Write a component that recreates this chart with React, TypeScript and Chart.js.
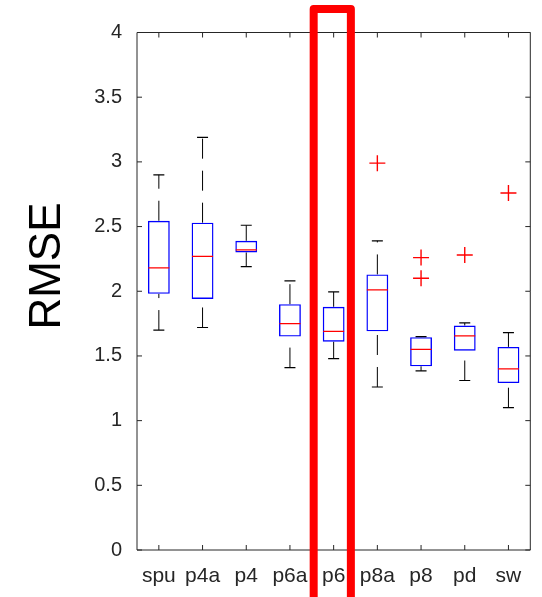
import React, { useEffect, useRef } from "react";
import { Chart, registerables } from "chart.js";

Chart.register(...registerables);

const categories = ["spu", "p4a", "p4", "p6a", "p6", "p8a", "p8", "pd", "sw"];
const q1 = [1.98, 1.94, 2.3, 1.65, 1.61, 1.69, 1.42, 1.54, 1.29];
const q3 = [2.545, 2.53, 2.39, 1.9, 1.88, 2.13, 1.645, 1.735, 1.57];
const medians = [2.18, 2.27, 2.32, 1.75, 1.69, 2.01, 1.55, 1.655, 1.4];
const whiskerLow = [1.7, 1.72, 2.19, 1.41, 1.48, 1.26, 1.385, 1.31, 1.1];
const whiskerHigh = [2.9, 3.19, 2.51, 2.08, 1.995, 2.39, 1.65, 1.755, 1.68];
const outlierCategory = ["p8a", "p8", "p8", "pd", "sw"];
const outlierValue = [2.99, 2.26, 2.1, 2.28, 2.76];
const yTicks = [0, 0.5, 1, 1.5, 2, 2.5, 3, 3.5, 4];
const highlightCategory = "p6";

const FONT = '"Liberation Sans", Arial, Helvetica, sans-serif';
const AXIS = "#262626";

const framePlugin = {
  id: "frame",
  afterDraw(chart: any) {
    const { ctx, chartArea, scales } = chart;
    const { left, right, top, bottom } = chartArea;
    ctx.save();
    ctx.strokeStyle = AXIS;
    ctx.lineWidth = 1;
    ctx.beginPath();
    ctx.rect(left, top, right - left, bottom - top);
    ctx.stroke();
    const tl = 5;
    ctx.beginPath();
    scales.y.ticks.forEach((t: any) => {
      const py = scales.y.getPixelForValue(t.value);
      ctx.moveTo(left, py);
      ctx.lineTo(left + tl, py);
      ctx.moveTo(right, py);
      ctx.lineTo(right - tl, py);
    });
    scales.x.ticks.forEach((t: any) => {
      const px = scales.x.getPixelForValue(t.value);
      ctx.moveTo(px, bottom);
      ctx.lineTo(px, bottom - tl);
      ctx.moveTo(px, top);
      ctx.lineTo(px, top + tl);
    });
    ctx.stroke();

    // y axis title
    ctx.fillStyle = "#000000";
    ctx.font = `44px ${FONT}`;
    ctx.textAlign = "center";
    ctx.textBaseline = "middle";
    ctx.translate(48, 266);
    ctx.rotate(-Math.PI / 2);
    ctx.fillText("RMSE", 0, 0);
    ctx.restore();

    // highlight rectangle around the chosen category
    const idx = categories.indexOf(highlightCategory) + 1;
    const xl = scales.x.getPixelForValue(idx - 0.457);
    const xr = scales.x.getPixelForValue(idx + 0.394);
    const yt = scales.y.getPixelForValue(4.182);
    const yb = scales.y.getPixelForValue(-0.6);
    ctx.save();
    ctx.strokeStyle = "#ff0000";
    ctx.lineWidth = 8;
    ctx.lineJoin = "round";
    ctx.beginPath();
    ctx.moveTo(xl, yb);
    ctx.lineTo(xl, yt);
    ctx.lineTo(xr, yt);
    ctx.lineTo(xr, yb);
    ctx.stroke();
    ctx.restore();
  },
};

export default function App() {
  const ref = useRef<HTMLCanvasElement | null>(null);
  useEffect(() => {
    document.body.style.margin = "0";
    const canvas = ref.current;
    if (!canvas) return;

    const boxes = categories.map((_, i) => ({ x: i + 1, y: [q1[i], q3[i]] }));
    const med = categories.map((_, i) => ({ x: i + 1, y: medians[i] }));
    const caps: any[] = [];
    const whiskers: any[] = [];
    categories.forEach((_, i) => {
      caps.push({ x: i + 1, y: whiskerLow[i] });
      caps.push({ x: i + 1, y: whiskerHigh[i] });
      whiskers.push({ x: i + 1, y: whiskerLow[i] });
      whiskers.push({ x: i + 1, y: q1[i] });
      whiskers.push({ x: i + 1, y: null });
      whiskers.push({ x: i + 1, y: q3[i] });
      whiskers.push({ x: i + 1, y: whiskerHigh[i] });
      whiskers.push({ x: i + 1, y: null });
    });
    const outs = outlierCategory.map((c, i) => ({
      x: categories.indexOf(c) + 1,
      y: outlierValue[i],
    }));

    const chart = new Chart(canvas, {
      type: "bar",
      data: {
        datasets: [
          {
            type: "line",
            order: 4,
            data: whiskers,
            borderColor: "#000000",
            borderWidth: 1,
            borderDash: [20, 12],
            pointRadius: 0,
            pointHoverRadius: 0,
            spanGaps: false,
            fill: false,
          } as any,
          {
            type: "bar",
            order: 3,
            data: boxes,
            backgroundColor: "rgba(0,0,0,0)",
            borderColor: "#0000ff",
            borderWidth: 1.4,
            borderSkipped: false,
            barPercentage: 0.5,
            categoryPercentage: 1,
          } as any,
          {
            type: "scatter",
            order: 2,
            data: caps,
            pointStyle: "line",
            pointRadius: 5.5,
            pointHoverRadius: 5.5,
            borderColor: "#000000",
            pointBorderColor: "#000000",
            pointBorderWidth: 1.2,
            borderWidth: 1.2,
          } as any,
          {
            type: "scatter",
            order: 1,
            data: med,
            pointStyle: "line",
            pointRadius: 10.5,
            pointHoverRadius: 10.5,
            borderColor: "#ff0000",
            pointBorderColor: "#ff0000",
            pointBorderWidth: 1.2,
            borderWidth: 1.2,
          } as any,
          {
            type: "scatter",
            order: 0,
            data: outs,
            pointStyle: "cross",
            pointRadius: 8,
            pointHoverRadius: 8,
            borderColor: "#ff0000",
            pointBorderColor: "#ff0000",
            pointBorderWidth: 1.4,
            borderWidth: 1.4,
          } as any,
        ],
      },
      options: {
        responsive: false,
        animation: false,
        events: [],
        layout: { padding: { left: 0, right: 5, top: 32.5, bottom: 0 } },
        plugins: { legend: { display: false }, tooltip: { enabled: false } },
        scales: {
          x: {
            type: "linear",
            min: 0.5,
            max: 9.5,
            offset: false,
            grid: { display: false, drawTicks: false },
            border: { display: false },
            afterBuildTicks: (scale: any) => {
              scale.ticks = categories.map((_, i) => ({ value: i + 1 }));
            },
            afterFit: (scale: any) => {
              scale.height = 47;
            },
            ticks: {
              autoSkip: false,
              maxRotation: 0,
              minRotation: 0,
              padding: 14,
              color: AXIS,
              font: { family: FONT, size: 21 },
              callback: (v: any) => categories[Math.round(Number(v)) - 1] ?? "",
            },
          },
          y: {
            type: "linear",
            min: 0,
            max: 4,
            grid: { display: false, drawTicks: false },
            border: { display: false },
            afterBuildTicks: (scale: any) => {
              scale.ticks = yTicks.map((v) => ({ value: v }));
            },
            afterFit: (scale: any) => {
              scale.width = 137;
            },
            ticks: {
              padding: 15,
              color: AXIS,
              font: { family: FONT, size: 20 },
              callback: (v: any) => String(v),
            },
          },
        },
      } as any,
      plugins: [framePlugin],
    });
    return () => chart.destroy();
  }, []);

  return (
    <canvas
      ref={ref}
      width={542}
      height={597}
      style={{ display: "block", position: "absolute", left: 0, top: 0 }}
    />
  );
}
